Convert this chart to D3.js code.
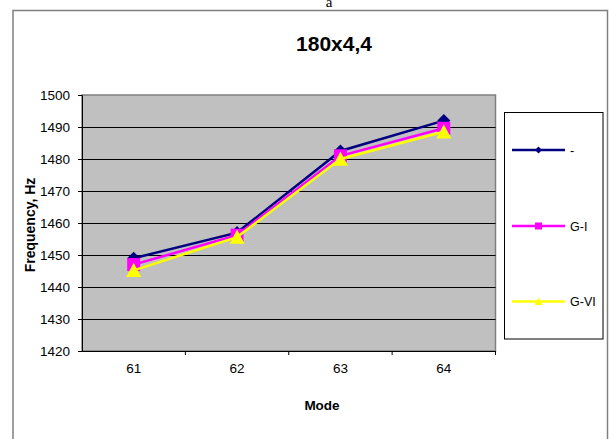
<!DOCTYPE html>
<html><head><meta charset="utf-8">
<script src="https://cdn.jsdelivr.net/npm/d3@7"></script>
<style>body{margin:0;background:#fff;}svg{display:block;font-family:Arial,"Liberation Sans",sans-serif;}</style>
</head><body>
<svg id="c" width="609" height="439"></svg>
<script>
const categories = ["61", "62", "63", "64"];
const seriesNames = ["-", "G-I", "G-VI"];
const valuesPlain = [1449, 1457, 1482.5, 1492];
const valuesGI = [1447, 1456.2, 1481, 1489.6];
const valuesGVI = [1445.2, 1455.6, 1480, 1488.5];
const yTicks = [1420, 1430, 1440, 1450, 1460, 1470, 1480, 1490, 1500];

const series = [
  {name: seriesNames[0], values: valuesPlain, color: "#000080", marker: "diamond"},
  {name: seriesNames[1], values: valuesGI, color: "#ff00ff", marker: "square"},
  {name: seriesNames[2], values: valuesGVI, color: "#ffff00", marker: "triangle"}
];

const svg = d3.select("#c");
const L = 82, R = 495.5, T = 95, B = 351;
const FONT = "Arial,'Liberation Sans',sans-serif";

// outer frame
svg.append("rect").attr("x", 13).attr("y", 10.5).attr("width", 594.5).attr("height", 440)
  .attr("fill", "#fff").attr("stroke", "#808080").attr("stroke-width", 1.5);

svg.append("text").attr("x", 329).attr("y", 7).attr("text-anchor", "middle")
  .attr("font-family", "'Liberation Serif','Times New Roman',serif").attr("font-size", 15).text("a");

svg.append("text").attr("x", 334).attr("y", 51).attr("text-anchor", "middle")
  .attr("font-weight", "bold").attr("font-size", 21).text("180x4,4");

const x = d3.scaleBand().domain(categories).range([L, R]);
const y = d3.scaleLinear().domain([1420, 1500]).range([B, T]);

// plot area
svg.append("rect").attr("x", L).attr("y", T).attr("width", R - L).attr("height", B - T)
  .attr("fill", "#c0c0c0").attr("stroke", "#808080").attr("stroke-width", 1.5);

// gridlines
svg.append("g").selectAll("line").data(yTicks.filter(t => t > 1420 && t < 1500)).join("line")
  .attr("x1", L).attr("x2", R).attr("y1", d => Math.round(y(d)) + 0.5).attr("y2", d => Math.round(y(d)) + 0.5)
  .attr("stroke", "#000").attr("stroke-width", 1);

// y axis
const ya = svg.append("g").attr("transform", `translate(${L},0)`)
  .call(d3.axisLeft(y).tickValues(yTicks).tickSize(4).tickPadding(8).tickFormat(d3.format("d")));
ya.select(".domain").attr("stroke", "#000");
ya.selectAll("text").attr("font-size", 13.5).attr("fill", "#000").attr("font-family", FONT);

// x axis
const xa = svg.append("g").attr("transform", `translate(0,${B})`)
  .call(d3.axisBottom(x).tickSize(0).tickPadding(12));
xa.select(".domain").attr("stroke", "#000");
xa.selectAll("text").attr("font-size", 13.5).attr("fill", "#000").attr("font-family", FONT);
xa.append("g").selectAll("line").data(categories).join("line")
  .attr("x1", d => x(d) + x.bandwidth()).attr("x2", d => x(d) + x.bandwidth())
  .attr("y1", 0).attr("y2", 4).attr("stroke", "#000");

svg.append("text").attr("transform", "translate(35,225) rotate(-90)").attr("text-anchor", "middle")
  .attr("font-weight", "bold").attr("font-size", 14).text("Frequency, Hz");
svg.append("text").attr("x", 322).attr("y", 410).attr("text-anchor", "middle")
  .attr("font-weight", "bold").attr("font-size", 13.5).text("Mode");

function markerPath(type, s) {
  if (type === "diamond") return `M0,${-s}L${s},0L0,${s}L${-s},0Z`;
  if (type === "square") return `M${-s},${-s}H${s}V${s}H${-s}Z`;
  return `M0,${-s}L${s},${s * 0.9}L${-s},${s * 0.9}Z`;
}
const sizes = {diamond: 6.5, square: 6.5, triangle: 7.5};
const legSizes = {diamond: 3.5, square: 3.5, triangle: 4};

const line = d3.line().x((d, i) => x(categories[i]) + x.bandwidth() / 2).y(d => y(d));
series.forEach(s => {
  const g = svg.append("g");
  g.append("path").attr("d", line(s.values)).attr("fill", "none").attr("stroke", s.color).attr("stroke-width", 2.5);
  g.selectAll("path.m").data(s.values).join("path").attr("class", "m")
    .attr("transform", (d, i) => `translate(${x(categories[i]) + x.bandwidth() / 2},${y(d)})`)
    .attr("d", markerPath(s.marker, sizes[s.marker])).attr("fill", s.color);
});

// legend
svg.append("rect").attr("x", 504.5).attr("y", 112.5).attr("width", 98.5).attr("height", 226.5)
  .attr("fill", "#fff").attr("stroke", "#000").attr("stroke-width", 1);
const legY = [150, 226, 301.5];
series.forEach((s, i) => {
  const g = svg.append("g").attr("transform", `translate(0,${legY[i]})`);
  g.append("line").attr("x1", 512).attr("x2", 565).attr("y1", 0).attr("y2", 0).attr("stroke", s.color).attr("stroke-width", 2.5);
  g.append("path").attr("transform", "translate(538.5,0)").attr("d", markerPath(s.marker, legSizes[s.marker])).attr("fill", s.color);
  g.append("text").attr("x", 570).attr("y", 4.5).attr("font-size", 12.5).attr("fill", "#000").text(s.name);
});
</script>
</body></html>
